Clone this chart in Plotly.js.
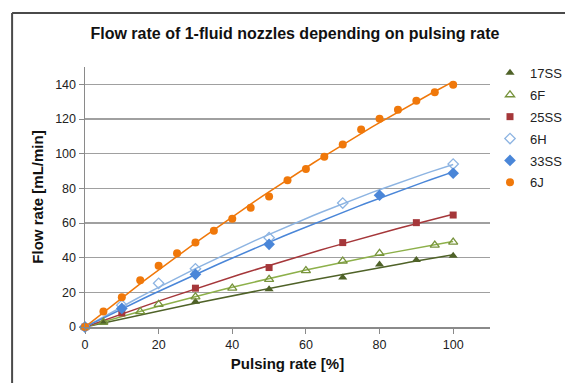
<!DOCTYPE html>
<html>
<head>
<meta charset="utf-8">
<script src="https://cdn.plot.ly/plotly-3.0.1.min.js"></script>
<style>html,body{margin:0;padding:0;background:#fff;}#chart{width:565px;height:383px;}</style>
</head>
<body>
<div id="chart"></div>
<script>
// Series data (Pulsing rate [%] vs Flow rate [mL/min])
const names = ["17SS", "6F", "25SS", "6H", "33SS", "6J"];

const x17SS = [0, 5, 30, 50, 70, 80, 90, 100];
const y17SS = [0, 2.5, 14.6, 21.8, 28.5, 36.0, 38.6, 41.1];

const x6F = [0, 5, 15, 20, 30, 40, 50, 60, 70, 80, 95, 100];
const y6F = [0, 2.8, 8.9, 13.1, 17.4, 22.4, 27.5, 32.5, 38.0, 42.5, 47.2, 49.0];

const x25SS = [0, 10, 30, 50, 70, 90, 100];
const y25SS = [0, 8.1, 22.4, 34.3, 48.7, 60.2, 64.6];

const x6H = [0, 10, 20, 30, 50, 70, 100];
const y6H = [0, 12.6, 25.2, 33.6, 51.5, 71.5, 94.0];

const x33SS = [0, 10, 30, 50, 80, 100];
const y33SS = [0, 10.7, 30.4, 47.7, 76.0, 88.7];

const x6J = [0, 5, 10, 15, 20, 25, 30, 35, 40, 45, 50, 55, 60, 65, 70, 75, 80, 85, 90, 95, 100];
const y6J = [0, 8.9, 17.2, 26.9, 35.3, 42.5, 48.8, 55.5, 62.4, 68.8, 75.3, 84.7, 91.1, 98.2, 105.3, 113.9, 120.1, 125.3, 130.5, 135.4, 139.7];

const xTicks = [0, 20, 40, 60, 80, 100];
const yTicks = [0, 20, 40, 60, 80, 100, 120, 140];

const colors = ["#4F6228", "#77933C", "#A5373A", "#8DB4E2", "#4A86D8", "#F0780A"];
const lineColors = ["#4F6228", "#8DB04A", "#A5373A", "#8DB4E2", "#4A86D8", "#F0780A"];
const symbols = ["triangle-up", "triangle-up-open", "square", "diamond-open", "diamond", "circle"];
const sizes = [8, 8, 7, 8, 9, 8];

const xs = [x17SS, x6F, x25SS, x6H, x33SS, x6J];
const ys = [y17SS, y6F, y25SS, y6H, y33SS, y6J];

// Polynomial (order 2, through origin) least-squares trendline fitted to each series
function fit(x, y) {
  let s2 = 0, s3 = 0, s4 = 0, sxy = 0, sx2y = 0;
  for (let i = 0; i < x.length; i++) {
    const a = x[i];
    s2 += a * a; s3 += a * a * a; s4 += a * a * a * a;
    sxy += a * y[i]; sx2y += a * a * y[i];
  }
  const det = s2 * s4 - s3 * s3;
  const A = (sxy * s4 - s3 * sx2y) / det;
  const B = (s2 * sx2y - s3 * sxy) / det;
  const fx = [], fy = [];
  const xmax = Math.max(...x);
  for (let k = 0; k <= 50; k++) {
    const v = xmax * k / 50;
    fx.push(v); fy.push(A * v + B * v * v);
  }
  return [fx, fy];
}

const traces = [];
for (let i = 0; i < names.length; i++) {
  const f = fit(xs[i], ys[i]);
  traces.push({
    x: f[0], y: f[1], mode: "lines", type: "scatter",
    line: {color: lineColors[i], width: 1.5},
    showlegend: false, hoverinfo: "skip", legendgroup: names[i]
  });
}
for (let i = 0; i < names.length; i++) {
  traces.push({
    x: xs[i], y: ys[i], mode: "markers", type: "scatter", name: names[i],
    legendgroup: names[i],
    marker: {symbol: symbols[i], size: sizes[i], color: colors[i],
             line: {color: colors[i], width: symbols[i].indexOf("open") >= 0 ? 1.3 : 0}},
    cliponaxis: false
  });
}

const layout = {
  width: 565, height: 383,
  margin: {l: 85, r: 75, t: 67, b: 56, autoexpand: false},
  paper_bgcolor: "#ffffff", plot_bgcolor: "#ffffff",
  font: {family: "Liberation Sans, Arial, sans-serif", color: "#222", size: 12},
  title: {text: "<b>Flow rate of 1-fluid nozzles depending on pulsing rate</b>",
          font: {size: 16, color: "#111"}, x: 0.522, xanchor: "center", y: 0.912, yanchor: "middle"},
  xaxis: {range: [0, 110], tickvals: xTicks, ticktext: xTicks.map(String),
          showgrid: false, zeroline: false, showline: true, linecolor: "#8a8a8a", linewidth: 1.5,
          ticks: "outside", ticklen: 5, tickcolor: "#8a8a8a", tickfont: {size: 12.5, color: "#222"},
          title: {text: "<b>Pulsing rate [%]</b>", font: {size: 15, color: "#111"}, standoff: 8}},
  yaxis: {range: [0, 150], tickvals: yTicks, ticktext: yTicks.map(String),
          showgrid: true, gridcolor: "#a0a0a0", gridwidth: 1.2, zeroline: false,
          showline: true, linecolor: "#8a8a8a", linewidth: 1.5,
          ticks: "outside", ticklen: 5, tickcolor: "#8a8a8a", tickfont: {size: 12.5, color: "#222"},
          title: {text: "<b>Flow rate [mL/min]</b>", font: {size: 15, color: "#111"}, standoff: 8}},
  legend: {x: 1.0, xanchor: "left", y: 1.035, yanchor: "top", traceorder: "grouped",
           tracegroupgap: 2, font: {size: 13, color: "#222"}, bgcolor: "rgba(0,0,0,0)"},
  showlegend: true,
  shapes: [
    {type: "line", xref: "paper", yref: "paper", x0: -0.18, x1: 1.3, y0: 1.2077, y1: 1.2077,
     line: {color: "#4a4a4a", width: 2}},
    {type: "line", xref: "paper", yref: "paper", x0: -0.18, x1: -0.18, y0: -0.3, y1: 1.2077,
     line: {color: "#4a4a4a", width: 2}}
  ]
};

Plotly.newPlot("chart", traces, layout, {displayModeBar: false, staticPlot: true});
</script>
</body>
</html>
